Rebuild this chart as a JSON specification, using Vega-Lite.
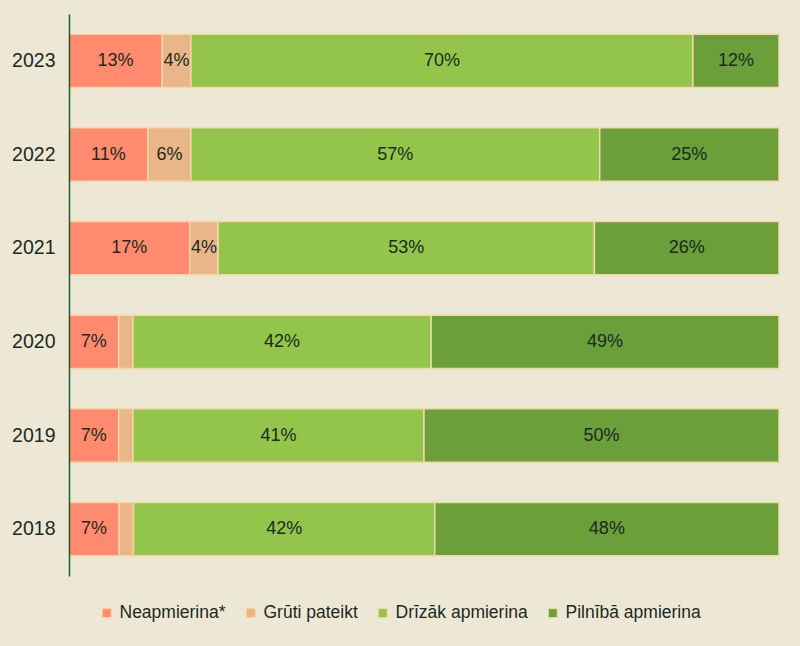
{
  "$schema": "https://vega.github.io/schema/vega-lite/v6.json",
  "width": 710,
  "height": 562,
  "autosize": "none",
  "padding": {"left": 69, "top": 14, "right": 21, "bottom": 70},
  "background": "#ede8d5",
  "config": {
    "view": {"stroke": null},
    "font": "Liberation Sans",
    "axis": {"labelFont": "Liberation Sans"},
    "legend": {"labelFont": "Liberation Sans"}
  },
  "data": {
    "values": [
      {"year": "2023", "c": "Neapmierina*", "v": 13},
      {"year": "2023", "c": "Grūti pateikt", "v": 4},
      {"year": "2023", "c": "Drīzāk apmierina", "v": 70},
      {"year": "2023", "c": "Pilnībā apmierina", "v": 12},
      {"year": "2022", "c": "Neapmierina*", "v": 11},
      {"year": "2022", "c": "Grūti pateikt", "v": 6},
      {"year": "2022", "c": "Drīzāk apmierina", "v": 57},
      {"year": "2022", "c": "Pilnībā apmierina", "v": 25},
      {"year": "2021", "c": "Neapmierina*", "v": 17},
      {"year": "2021", "c": "Grūti pateikt", "v": 4},
      {"year": "2021", "c": "Drīzāk apmierina", "v": 53},
      {"year": "2021", "c": "Pilnībā apmierina", "v": 26},
      {"year": "2020", "c": "Neapmierina*", "v": 7},
      {"year": "2020", "c": "Grūti pateikt", "v": 2},
      {"year": "2020", "c": "Drīzāk apmierina", "v": 42},
      {"year": "2020", "c": "Pilnībā apmierina", "v": 49},
      {"year": "2019", "c": "Neapmierina*", "v": 7},
      {"year": "2019", "c": "Grūti pateikt", "v": 2},
      {"year": "2019", "c": "Drīzāk apmierina", "v": 41},
      {"year": "2019", "c": "Pilnībā apmierina", "v": 50},
      {"year": "2018", "c": "Neapmierina*", "v": 7},
      {"year": "2018", "c": "Grūti pateikt", "v": 2},
      {"year": "2018", "c": "Drīzāk apmierina", "v": 42},
      {"year": "2018", "c": "Pilnībā apmierina", "v": 48}
    ]
  },
  "transform": [
    {"calculate": "indexof(['Neapmierina*','Grūti pateikt','Drīzāk apmierina','Pilnībā apmierina'], datum.c)", "as": "k"},
    {"stack": "v", "groupby": ["year"], "sort": [{"field": "k", "order": "ascending"}], "offset": "normalize", "as": ["x0", "x1"]},
    {"calculate": "(datum.x0 + datum.x1) / 2", "as": "xm"},
    {"calculate": "datum.v + '%'", "as": "lbl"}
  ],
  "encoding": {
    "y": {
      "field": "year",
      "type": "nominal",
      "sort": ["2023", "2022", "2021", "2020", "2019", "2018"],
      "scale": {"paddingInner": 0.43, "paddingOuter": 0.215},
      "axis": {
        "title": null,
        "ticks": false,
        "labelFontSize": 19.5,
        "labelColor": "#1b2a1f",
        "labelPadding": 14,
        "domainColor": "#1e5b35",
        "domainWidth": 1.5,
        "grid": false,
        "zindex": 1
      }
    }
  },
  "layer": [
    {
      "mark": {"type": "bar", "stroke": "#f5d6a6", "strokeWidth": 1.5},
      "encoding": {
        "x": {"field": "x0", "type": "quantitative", "scale": {"domain": [0, 1]}, "axis": null},
        "x2": {"field": "x1"},
        "color": {
          "field": "c",
          "type": "nominal",
          "scale": {
            "domain": ["Neapmierina*", "Grūti pateikt", "Drīzāk apmierina", "Pilnībā apmierina"],
            "range": ["#ff8a6d", "#e8b689", "#93c54a", "#6a9f3a"]
          },
          "legend": {
            "title": null,
            "orient": "none",
            "direction": "horizontal",
            "legendX": 29,
            "legendY": 590,
            "symbolType": "square",
            "symbolSize": 80,
            "symbolStrokeColor": "#f5d6a6",
            "symbolStrokeWidth": 1,
            "labelFontSize": 17.5,
            "labelColor": "#1b2a1f",
            "labelOffset": 4,
            "columnPadding": 16
          }
        }
      }
    },
    {
      "transform": [{"filter": "datum.v >= 3"}],
      "mark": {"type": "text", "fontSize": 18, "color": "#1b2a1f", "font": "Liberation Sans"},
      "encoding": {
        "x": {"field": "xm", "type": "quantitative", "scale": {"domain": [0, 1]}},
        "text": {"field": "lbl", "type": "nominal"}
      }
    }
  ]
}
